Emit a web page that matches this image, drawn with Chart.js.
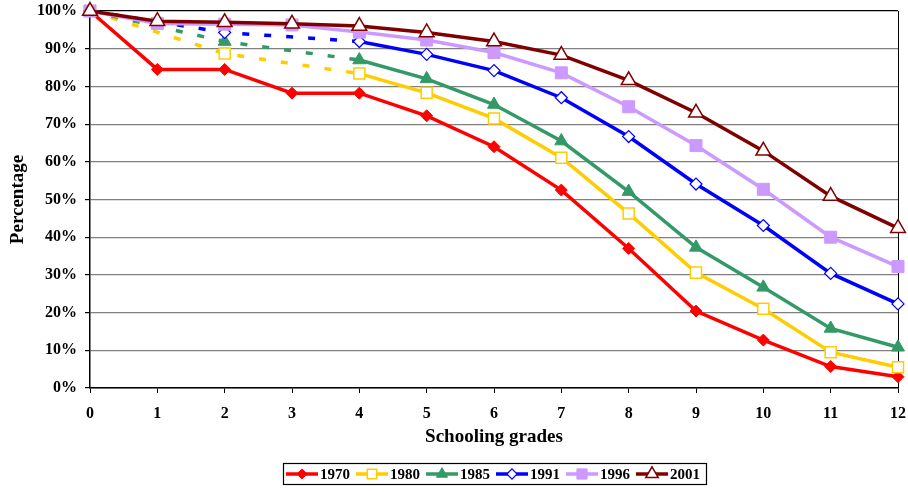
<!DOCTYPE html>
<html>
<head>
<meta charset="utf-8">
<script src="https://cdn.jsdelivr.net/npm/chart.js@4"></script>
<style>
  html, body { margin: 0; padding: 0; background: #fff; }
  #wrap { width: 908px; height: 492px; }
</style>
</head>
<body>
<div id="wrap"><canvas id="chart" width="908" height="492"></canvas></div>
<script>
const grades = ["0", "1", "2", "3", "4", "5", "6", "7", "8", "9", "10", "11", "12"];
const yearLabels = ["1970", "1980", "1985", "1991", "1996", "2001"];
const yTicks = [0, 10, 20, 30, 40, 50, 60, 70, 80, 90, 100];

const y1970 = [100, 84.5, 84.5, 78.2, 78.2, 72.2, 64.0, 52.5, 37.0, 20.4, 12.7, 5.7, 3.0];
const y1980 = [100, null, 88.7, null, 83.4, 78.3, 71.5, 61.1, 46.3, 30.6, 21.0, 9.5, 5.5];
const y1985 = [100, null, 91.9, null, 87.0, 82.0, 75.2, 65.5, 52.1, 37.3, 26.7, 15.8, 10.8];
const y1991 = [100, null, 94.3, null, 91.9, 88.5, 84.2, 77.0, 66.7, 54.1, 43.1, 30.4, 22.3];
const y1996 = [100, 96.7, 96.5, 96.3, 94.4, 92.3, 89.0, 83.6, 74.6, 64.3, 52.7, 40.0, 32.2];
const y2001 = [100, 97.3, 97.0, 96.6, 96.0, 94.3, 91.9, 88.3, 81.6, 73.0, 62.9, 50.9, 42.4];

const serif = "'Liberation Serif', 'Times New Roman', serif";
Chart.defaults.font.family = serif;
Chart.defaults.font.weight = "bold";
Chart.defaults.color = "#000";

// dashed between the early sparse points (0, 2, 4)
const dashEarly = {
  borderDash: (ctx) => (ctx.p1DataIndex <= 4 ? [7, 15] : undefined),
};

function series(i, data, color, style, radius, fill, bw, dashed) {
  return {
    label: yearLabels[i],
    data: data,
    borderColor: color,
    backgroundColor: color,
    borderWidth: 3.5,
    pointStyle: style,
    pointRadius: radius,
    pointHoverRadius: radius,
    pointBackgroundColor: fill,
    pointBorderColor: color,
    pointBorderWidth: bw,
    tension: 0,
    spanGaps: true,
    clip: false,
    order: 5 - i,
    segment: dashed ? dashEarly : undefined,
  };
}

const datasets = [
  series(0, y1970, "#ff0000", "rectRot", 6, "#ff0000", 1, false),
  series(1, y1980, "#ffcc00", "rect", 7.8, "#ffffff", 1.5, true),
  series(2, y1985, "#339966", "triangle", 7.5, "#339966", 1, true),
  series(3, y1991, "#0000ff", "rectRot", 6, "#ffffff", 1.2, true),
  series(4, y1996, "#cc99ff", "rect", 8.5, "#cc99ff", 1, false),
  series(5, y2001, "#800000", "triangle", 8.5, "#ffffff", 1.5, false),
];

// boxed legend with line + marker samples
const boxLegend = {
  id: "boxLegend",
  afterDraw(chart) {
    const ctx = chart.ctx;
    const area = chart.chartArea;
    const lineLen = 32;
    const font = "bold 15px " + serif;
    ctx.save();
    ctx.font = font;
    const items = chart.data.datasets.map((ds) => {
      const w = lineLen + 2 + ctx.measureText(ds.label).width + 6;
      return { ds, w };
    });
    const total = items.reduce((s, it) => s + it.w, 0) + 3;
    const left = Math.round((area.left + area.right) / 2 - total / 2);
    const top = 463;
    const h = 21;
    ctx.strokeStyle = "#000";
    ctx.lineWidth = 1.2;
    ctx.strokeRect(left + 0.5, top + 0.5, total, h);
    const cy = top + h / 2 + 0.5;
    let x = left + 3;
    items.forEach(({ ds, w }) => {
      ctx.strokeStyle = ds.borderColor;
      ctx.lineWidth = 3.5;
      ctx.setLineDash([]);
      ctx.beginPath();
      ctx.moveTo(x, cy);
      ctx.lineTo(x + lineLen, cy);
      ctx.stroke();
      ctx.fillStyle = ds.pointBackgroundColor;
      ctx.strokeStyle = ds.pointBorderColor;
      ctx.lineWidth = ds.pointBorderWidth;
      Chart.helpers.drawPoint(ctx, {
        pointStyle: ds.pointStyle,
        radius: ds.pointRadius * 0.85,
        borderWidth: ds.pointBorderWidth,
        rotation: 0,
      }, x + lineLen / 2, cy);
      ctx.fillStyle = "#000";
      ctx.textAlign = "left";
      ctx.textBaseline = "middle";
      ctx.font = font;
      ctx.fillText(ds.label, x + lineLen + 2, cy + 1);
      x += w;
    });
    ctx.restore();
  },
};

new Chart(document.getElementById("chart"), {
  type: "line",
  data: { labels: grades, datasets: datasets },
  plugins: [boxLegend],
  options: {
    responsive: false,
    animation: false,
    layout: { autoPadding: false, padding: { left: 0, top: 11, right: 10, bottom: 44 } },
    plugins: {
      legend: { display: false },
      tooltip: { enabled: false },
    },
    scales: {
      x: {
        offset: false,
        afterFit: (s) => { s.height = 60; s.paddingLeft = 0; s.paddingRight = 0; },
        border: { color: "#000", width: 1.5 },
        grid: {
          color: (c) => (c.index === grades.length - 1 ? "#000" : "rgba(0,0,0,0)"),
          tickColor: "#000",
          tickLength: 5,
          lineWidth: 1,
        },
        ticks: { font: { size: 16, weight: "bold" }, padding: 11, maxRotation: 0 },
        title: {
          display: true,
          text: "Schooling grades",
          font: { size: 19, weight: "bold" },
          padding: { top: 0, bottom: 0 },
        },
      },
      y: {
        min: 0,
        max: 100,
        afterFit: (s) => { s.width = 90; s.paddingTop = 0; s.paddingBottom = 0; },
        afterBuildTicks: (s) => { s.ticks = yTicks.map((v) => ({ value: v })); },
        border: { color: "#000", width: 1.5 },
        grid: {
          color: (c) => (c.tick && c.tick.value === 100 ? "#000" : "#808080"),
          tickColor: "#000",
          tickLength: 5,
          lineWidth: 1.2,
        },
        ticks: {
          font: { size: 16, weight: "bold" },
          padding: 8,
          callback: (v) => v + "%",
        },
        title: {
          display: true,
          text: "Percentage",
          font: { size: 19, weight: "bold" },
          padding: { top: 7, bottom: 0 },
        },
      },
    },
  },
});
</script>
</body>
</html>
